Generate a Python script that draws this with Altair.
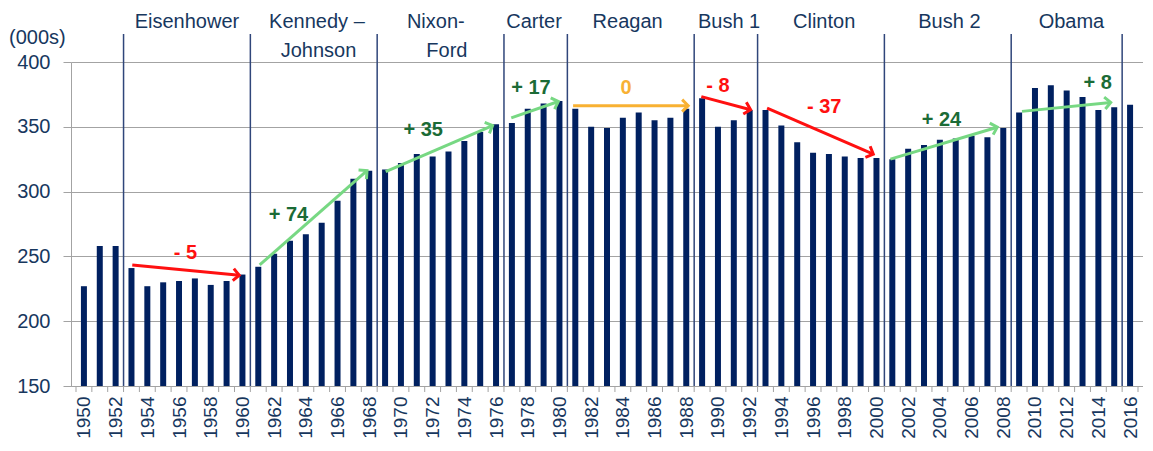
import math
import altair as alt
import pandas as pd

# ---------------- data ----------------
years = list(range(1950, 2017))
values = [227, 258, 258, 241, 227, 230, 231, 233, 228, 231,
          236, 242, 252, 262, 267, 276, 293, 310, 316, 317,
          322, 329, 327, 331, 339, 346, 352, 353, 364, 368,
          370, 364, 350, 349, 357, 361, 355, 357, 364, 372,
          350, 355, 363, 363, 351, 338, 330, 329, 327, 326,
          326, 325, 333, 336, 340, 341, 343, 342, 349, 361,
          380, 382, 378, 373, 363, 365, 367]

tick_years = list(range(1950, 2017, 2))
y_ticks = [150, 200, 250, 300, 350, 400]

separators = [1952.5, 1960.5, 1968.5, 1976.5, 1980.5, 1988.5, 1992.5, 2000.5, 2008.5, 2015.5]

pres_line1 = ["Eisenhower", "Kennedy –", "Nixon-", "Carter", "Reagan", "Bush 1", "Clinton", "Bush 2", "Obama"]
pres_line1_x = [1956.5, 1964.7, 1972.2, 1978.4, 1984.3, 1990.7, 1996.7, 2004.6, 2012.3]
pres_line2 = ["Johnson", "Ford"]
pres_line2_x = [1964.8, 1972.9]

arrow_x0 = [1953.05, 1961.09, 1969.04, 1976.96, 1980.86, 1988.95, 1993.10, 2000.88, 2009.18]
arrow_y0 = [243.4, 243.4, 315.5, 356.9, 366.3, 373.3, 364.5, 325.1, 361.9]
arrow_x1 = [1959.8, 1967.86, 1975.78, 1979.93, 1988.12, 1992.06, 1999.80, 2007.62, 2014.78]
arrow_y1 = [235.5, 316.2, 351.0, 369.5, 366.3, 363.2, 328.9, 349.7, 368.8]
arrow_kind = ["down", "up", "up", "up", "flat", "down", "down", "up", "up"]

ann_text = ["- 5", "+ 74", "+ 35", "+ 17", "0", "- 8", "- 37", "+ 24", "+ 8"]
ann_x = [1956.4, 1962.9, 1971.4, 1978.2, 1984.2, 1990.0, 1996.7, 2004.1, 2013.95]
ann_y = [252.8, 281.6, 347.4, 379.7, 379.7, 381.6, 365.6, 355.0, 383.5]

# ---------------- styles ----------------
W, H = 1072, 324
X_DOMAIN = [1949.5, 2016.5]
Y_DOMAIN = [150, 400]
NAVY = "#002060"
TEXT = "#17375e"
GRID = "#a3a3a3"
SEP = "#30467a"
FONT = "Liberation Sans"
line_colors = {"down": "#ff1010", "up": "#77d883", "flat": "#f8b133"}
text_colors = {"down": "#ff1010", "up": "#1b6b36", "flat": "#f8b133"}

px_year = W / (X_DOMAIN[1] - X_DOMAIN[0])
px_val = H / (Y_DOMAIN[1] - Y_DOMAIN[0])

bars = pd.DataFrame({"year": years, "value": values})
seps = pd.DataFrame({"x": separators})
bounds = pd.DataFrame({"x": [y - 0.5 for y in years] + [years[-1] + 0.5]})
p1 = pd.DataFrame({"x": pres_line1_x, "t": pres_line1})
p2 = pd.DataFrame({"x": pres_line2_x, "t": pres_line2})
arrows = pd.DataFrame({
    "x0": arrow_x0, "y0": arrow_y0, "x1": arrow_x1, "y1": arrow_y1,
    "c": [line_colors[k] for k in arrow_kind],
})
arrows["angle"] = [
    math.degrees(math.atan2(-(b - a) * px_val, (d - c) * px_year)) % 360
    for a, b, c, d in zip(arrow_y0, arrow_y1, arrow_x0, arrow_x1)
]
ann = pd.DataFrame({"x": ann_x, "y": ann_y, "t": ann_text,
                    "c": [text_colors[k] for k in arrow_kind]})

xs = alt.Scale(domain=X_DOMAIN, nice=False, zero=False)
ys = alt.Scale(domain=Y_DOMAIN, nice=False, zero=False)

X_AXIS = alt.Axis(
    values=tick_years, format="d", labelAngle=270, ticks=False,
    labelPadding=10, labelFontSize=19, labelColor=TEXT, labelFont=FONT,
    domainColor=GRID, grid=False, title=None, labelFlush=False,
    labelOverlap=False)
Y_AXIS = alt.Axis(
    values=y_ticks, labelFontSize=20, labelColor=TEXT, labelFont=FONT,
    tickSize=8, tickColor=GRID, domainColor=GRID, gridColor=GRID,
    labelPadding=13, title=None)


def X(field):
    return alt.X(field, scale=xs, axis=X_AXIS)


def Y(field):
    return alt.Y(field, scale=ys, axis=Y_AXIS)


bar_layer = alt.Chart(bars).mark_bar(size=6, color=NAVY).encode(
    x=X("year:Q"), y=Y("value:Q"), y2=alt.datum(150),
)

sep_layer = alt.Chart(seps).mark_rule(color=SEP, strokeWidth=1.5).encode(
    x=X("x:Q"), y=alt.value(-28), y2=alt.value(H),
)

tick_layer = alt.Chart(bounds).mark_rule(color=GRID, strokeWidth=1).encode(
    x=X("x:Q"), y=alt.value(H), y2=alt.value(H + 6),
)

arrow_lines = alt.Chart(arrows).mark_rule(strokeWidth=3).encode(
    x=X("x0:Q"), x2="x1:Q", y=Y("y0:Q"), y2="y1:Q",
    color=alt.Color("c:N", scale=None),
)

arrow_heads = alt.Chart(arrows).mark_point(
    shape="M-1,-1L0,0L-1,1", filled=False, strokeWidth=3, size=144, opacity=1
).encode(
    x=X("x1:Q"), y=Y("y1:Q"),
    angle=alt.Angle("angle:Q", scale=None),
    color=alt.Color("c:N", scale=None),
)

ann_layer = alt.Chart(ann).mark_text(
    fontSize=20, fontWeight="bold", font=FONT, align="center", baseline="middle"
).encode(
    x=X("x:Q"), y=Y("y:Q"), text="t:N",
    color=alt.Color("c:N", scale=None),
)

p1_layer = alt.Chart(p1).mark_text(
    fontSize=20, font=FONT, color=TEXT, align="center", baseline="alphabetic"
).encode(x=X("x:Q"), y=alt.value(-34), text="t:N")

p2_layer = alt.Chart(p2).mark_text(
    fontSize=20, font=FONT, color=TEXT, align="center", baseline="alphabetic"
).encode(x=X("x:Q"), y=alt.value(-5), text="t:N")

unit_layer = alt.Chart(pd.DataFrame({"t": ["(000s)"]})).mark_text(
    fontSize=20, font=FONT, color=TEXT, align="left", baseline="middle"
).encode(x=alt.value(-62), y=alt.value(-24), text="t:N")

chart = alt.layer(
    bar_layer, sep_layer, tick_layer, arrow_lines, arrow_heads,
    ann_layer, p1_layer, p2_layer, unit_layer,
).properties(
    width=W, height=H,
    padding={"left": 1, "top": 4, "right": 0, "bottom": 0},
    background="white",
).configure_view(stroke=None)

chart.save("out.html", embed_options={"renderer": "svg", "actions": False})
